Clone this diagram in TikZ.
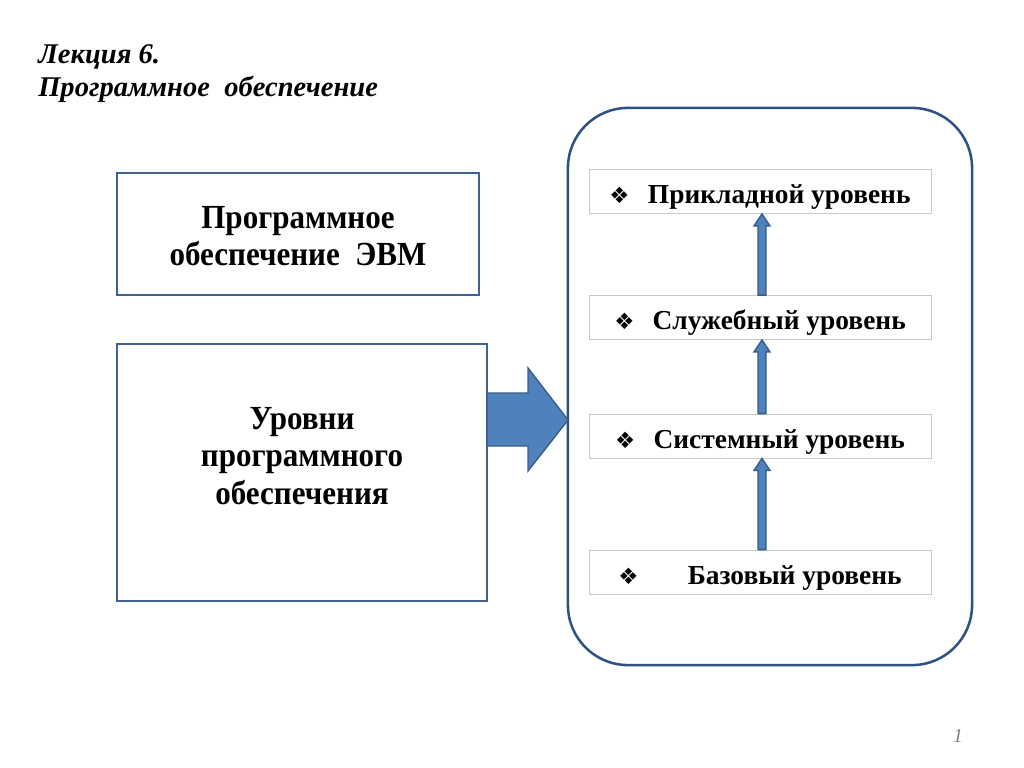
\documentclass[tikz,border=0pt]{standalone}
\usepackage{fontspec}
\setmainfont{Liberation Serif}
\newfontfamily\boxfont[FakeStretch=0.92]{Liberation Serif}
\newfontfamily\symfont{DejaVu Sans}
\usetikzlibrary{calc}
\definecolor{boxblue}{RGB}{63,98,145}
\definecolor{frameblue}{RGB}{47,82,132}
\definecolor{arrowfill}{RGB}{79,129,189}
\definecolor{arrowedge}{RGB}{56,93,138}
\definecolor{levelgray}{RGB}{200,200,200}
\newcommand{\dia}{{\symfont\fontsize{16pt}{16pt}\selectfont ❖}}
\newcommand{\shiftdown}[1]{\raisebox{-4pt}[\height][\depth]{#1}}
\newcommand{\lines}[1]{\shiftdown{\begin{tabular}{@{}c@{}}#1\end{tabular}}}
\tikzset{
  mainbox/.style={draw=boxblue, line width=1.4pt, font=\boxfont\fontsize{24pt}{26.5pt}\selectfont\bfseries},
  levelbox/.style={draw=levelgray, line width=0.6pt, minimum width=8.55cm, minimum height=1.1cm, font=\fontsize{19.5pt}{22pt}\selectfont\bfseries},
  blockarrow/.style={fill=arrowfill, draw=arrowedge, line width=1pt, line join=miter}
}

\begin{document}
\begin{tikzpicture}[x=0.025cm,y=-0.025cm]
    \useasboundingbox [fill=white] (0,0) rectangle (1024,768);
    \node (title) at (38,44) [anchor=north west, inner sep=0pt, align=left, font=\fontsize{20.3pt}{24pt}\selectfont\bfseries\itshape]{Лекция 6.\\ Программное\ \ обеспечение};
    \node (soft) at (298,234) [mainbox, minimum width=9.05cm, minimum height=3.05cm]{\lines{Программное\\ обеспечение\ \ ЭВМ}};
    \node (levels) at (302,472.5) [mainbox, minimum width=9.25cm, minimum height=6.425cm]{\lines{Уровни\\ программного\\ обеспечения\\ \mbox{}}};
    \node (frame) at (770,386.5) [draw=frameblue, line width=1.8pt, rounded corners=1.5cm, minimum width=10.1cm, minimum height=13.925cm]{};
    \node (app) at (760,191.5) [levelbox]{\shiftdown{\dia\hspace{13pt}Прикладной уровень}};
    \node (serv) at (760,317.5) [levelbox]{\shiftdown{\dia\hspace{13pt}Служебный уровень}};
    \node (sys) at (760,436) [levelbox]{\shiftdown{\dia\hspace{13pt}Системный уровень}};
    \node (base) at (760,572) [levelbox]{\shiftdown{\dia\hspace{35pt}Базовый уровень}};
    % big arrow into the frame
    \draw [blockarrow] (487,393) -- (528,393) -- (528,368) -- (568,420) -- (528,471) -- (528,446) -- (487,446) -- cycle;
    % arrows between the levels
    \foreach \lo/\hi in {base/sys, sys/serv, serv/app}
      \draw [blockarrow] ($(\lo.north)+(-2,0)$) -- ($(\hi.south)+(-2,12)$) -- ($(\hi.south)+(-6,12)$) -- ($(\hi.south)+(2,0)$)
        -- ($(\hi.south)+(10,12)$) -- ($(\hi.south)+(6,12)$) -- ($(\lo.north)+(6,0)$) -- cycle;
    \node (pagenum) at (958,736) [text=gray, font=\fontsize{14pt}{14pt}\selectfont\itshape]{1};
\end{tikzpicture}
\end{document}
